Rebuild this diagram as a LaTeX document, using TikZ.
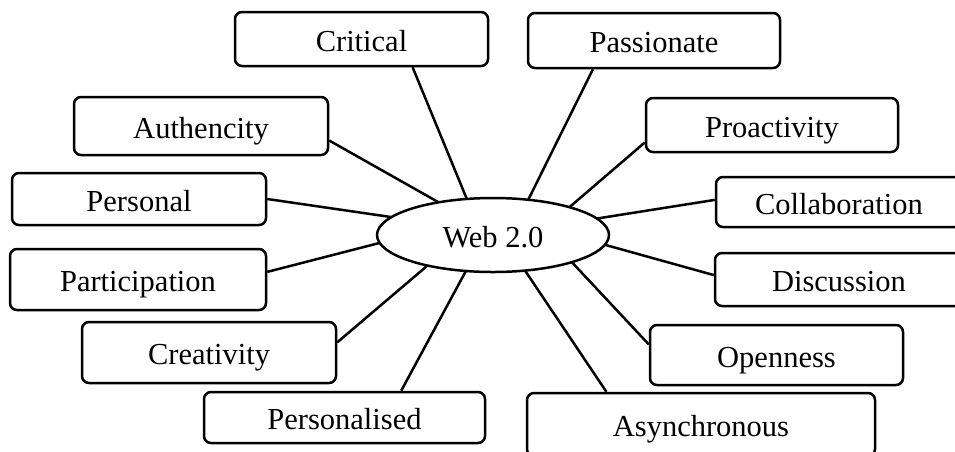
\documentclass[tikz,border=0pt]{standalone}
\usepackage{fontspec}
\setmainfont{Liberation Serif}
\usetikzlibrary{shapes.geometric,calc}
\begin{document}
\begin{tikzpicture}[x=1pt,y=-1pt,
  lbl/.style={font=\fontsize{30.5}{36}\selectfont,text height=27pt,text depth=3pt},
  box/.style={lbl,draw,rounded corners=7pt,line width=2.5pt,inner sep=0pt},
  hub/.style={lbl,draw,ellipse,line width=2.5pt,inner sep=0pt,outer sep=0pt,minimum width=232pt,minimum height=74pt},
  conn/.style={line width=2.5pt}]
\useasboundingbox (0,0) rectangle (955,451);
\clip (0,0) rectangle (955,451);
\node[hub] (web) at (493,235) {Web 2.0};
\node[box,minimum width=253pt,minimum height=54pt] (crit) at (361.5,39) {Critical};
\node[box,minimum width=252pt,minimum height=55pt] (pass) at (654,40.5) {Passionate};
\node[box,minimum width=254pt,minimum height=58pt] (auth) at (201,126) {Authencity};
\node[box,minimum width=252pt,minimum height=54pt] (proa) at (772,125) {Proactivity};
\node[box,minimum width=254pt,minimum height=52pt] (pers) at (139,199) {Personal};
\node[box,minimum width=246pt,minimum height=50pt] (coll) at (839,202) {Collaboration};
\node[box,minimum width=256pt,minimum height=61pt] (part) at (138,279.5) {Participation};
\node[box,minimum width=248pt,minimum height=53pt] (disc) at (839,279.5) {Discussion};
\node[box,minimum width=254pt,minimum height=61pt] (crea) at (209,352.5) {Creativity};
\node[box,minimum width=253pt,minimum height=60pt] (open) at (776.5,355) {Openness};
\node[box,minimum width=281pt,minimum height=51pt] (perd) at (344.5,417.5) {Personalised};
\node[box,minimum width=348pt,minimum height=63pt] (asyn) at (701,424.5) {Asynchronous};
% connectors
\draw[conn] ($(crit.south west)!0.70!(crit.south east)$) -- (web.126.6);
\draw[conn] ($(auth.north east)!0.74!(auth.south east)$) -- (web.149.5);
\draw[conn] ($(pers.north east)!0.50!(pers.south east)$) -- (web.170.6);
\draw[conn] ($(part.north east)!0.38!(part.south east)$) -- (web.-176);
\draw[conn] ($(crea.north east)!0.34!(crea.south east)$) -- (web.-155.7);
\draw[conn] ($(perd.north west)!0.70!(perd.north east)$) -- (web.-127.1);
\draw[conn] ($(pass.south west)!0.26!(pass.south east)$) -- (web.45.8);
\draw[conn] ($(proa.north west)!0.81!(proa.south west)$) -- (web.20.7);
\draw[conn] ($(coll.north west)!0.46!(coll.south west)$) -- (web.9.5);
\draw[conn] ($(disc.north west)!0.42!(disc.south west)$) -- (web.-5);
\draw[conn] ($(open.north west)!0.33!(open.south west)$) -- (web.-19.7);
\draw[conn] ($(asyn.north west)!0.23!(asyn.north east)$) -- (web.-48.2);
\end{tikzpicture}
\end{document}
